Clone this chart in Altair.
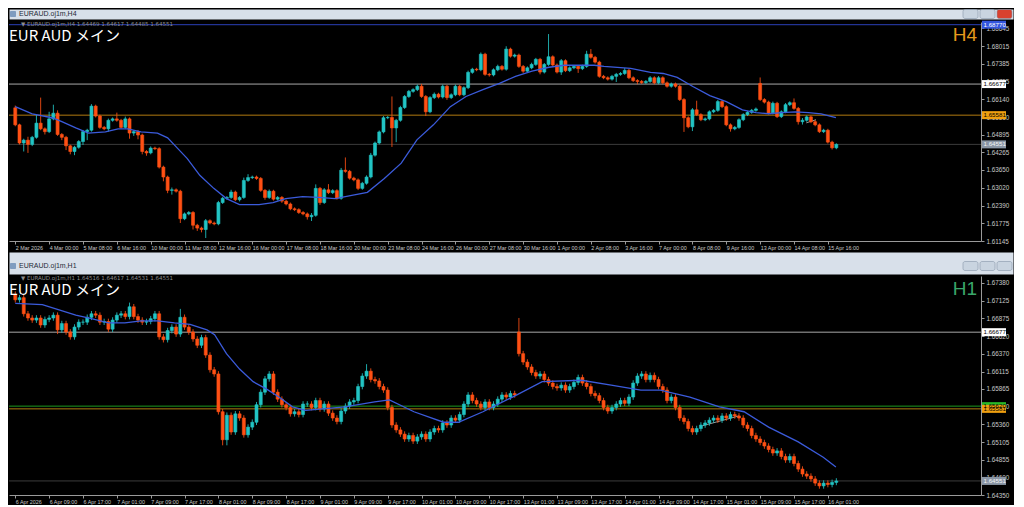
import altair as alt
import pandas as pd

# ---------------- layout constants ----------------
W = 972          # plot width of each panel
H = 219          # plot height of each panel
TW = 1004        # width of the window title bars
BULL = "#22c4c4"
BEAR = "#ff5014"
MA_COLOR = "#3b5bdb"
AXIS_GREY = "#c8c8c8"

# ---------------- H4 panel data ----------------
h4_open = [1.6584, 1.6524, 1.6460, 1.6470, 1.6455, 1.6480, 1.6530, 1.6510, 1.6500, 1.6545,
           1.6565, 1.6490, 1.6480, 1.6450, 1.6430, 1.6445, 1.6465, 1.6500, 1.6505, 1.6590,
           1.6555, 1.6515, 1.6510, 1.6540, 1.6545, 1.6540, 1.6515, 1.6545, 1.6495, 1.6500,
           1.6488, 1.6430, 1.6425, 1.6442, 1.6440, 1.6375, 1.6340, 1.6293, 1.6295, 1.6290,
           1.6193, 1.6210, 1.6215, 1.6170, 1.6160, 1.6155, 1.6186, 1.6178, 1.6175, 1.6250,
           1.6265, 1.6268, 1.6287, 1.6260, 1.6268, 1.6328, 1.6338, 1.6340, 1.6335, 1.6293,
           1.6268, 1.6290, 1.6262, 1.6268, 1.6255, 1.6245, 1.6228, 1.6225, 1.6215, 1.6210,
           1.6200, 1.6205, 1.6300, 1.6250, 1.6295, 1.6285, 1.6292, 1.6265, 1.6364, 1.6360,
           1.6336, 1.6330, 1.6300, 1.6318, 1.6340, 1.6417, 1.6460, 1.6499, 1.6549, 1.6550,
           1.6513, 1.6540, 1.6585, 1.6624, 1.6642, 1.6648, 1.6660, 1.6624, 1.6570, 1.6620,
           1.6632, 1.6622, 1.6660, 1.6620, 1.6630, 1.6660, 1.6630, 1.6655, 1.6709, 1.6720,
           1.6718, 1.6773, 1.6702, 1.6700, 1.6718, 1.6730, 1.6720, 1.6791, 1.6766, 1.6770,
           1.6730, 1.6713, 1.6725, 1.6737, 1.6755, 1.6710, 1.6737, 1.6764, 1.6735, 1.6710,
           1.6750, 1.6715, 1.6725, 1.6730, 1.6722, 1.6730, 1.6773, 1.6762, 1.6745, 1.6695,
           1.6690, 1.6685, 1.6695, 1.6702, 1.6705, 1.6716, 1.6690, 1.6680, 1.6677, 1.6673,
           1.6677, 1.6690, 1.6672, 1.6690, 1.6672, 1.6660, 1.6668, 1.6660, 1.6613, 1.6549,
           1.6517, 1.6577, 1.6560, 1.6542, 1.6545, 1.6570, 1.6575, 1.6606, 1.6588, 1.6524,
           1.6510, 1.6515, 1.6542, 1.6560, 1.6568, 1.6575, 1.6670, 1.6613, 1.6604, 1.6566,
           1.6600, 1.6553, 1.6570, 1.6595, 1.6602, 1.6582, 1.6535, 1.6540, 1.6552, 1.6535,
           1.6524, 1.6500, 1.6505, 1.6463, 1.6443]
h4_close = [1.6524, 1.6460, 1.6470, 1.6455, 1.6480, 1.6530, 1.6510, 1.6500, 1.6545, 1.6565,
            1.6490, 1.6480, 1.6450, 1.6430, 1.6445, 1.6465, 1.6500, 1.6505, 1.6590, 1.6555,
            1.6515, 1.6510, 1.6540, 1.6545, 1.6540, 1.6515, 1.6545, 1.6495, 1.6500, 1.6488,
            1.6430, 1.6425, 1.6442, 1.6440, 1.6375, 1.6340, 1.6293, 1.6295, 1.6290, 1.6193,
            1.6210, 1.6215, 1.6170, 1.6160, 1.6155, 1.6186, 1.6178, 1.6175, 1.6250, 1.6265,
            1.6268, 1.6287, 1.6260, 1.6268, 1.6328, 1.6338, 1.6340, 1.6335, 1.6293, 1.6268,
            1.6290, 1.6262, 1.6268, 1.6255, 1.6245, 1.6228, 1.6225, 1.6215, 1.6210, 1.6200,
            1.6205, 1.6300, 1.6250, 1.6295, 1.6285, 1.6292, 1.6265, 1.6364, 1.6360, 1.6336,
            1.6330, 1.6300, 1.6318, 1.6340, 1.6417, 1.6460, 1.6499, 1.6549, 1.6550, 1.6513,
            1.6540, 1.6585, 1.6624, 1.6642, 1.6648, 1.6660, 1.6624, 1.6570, 1.6620, 1.6632,
            1.6622, 1.6660, 1.6620, 1.6630, 1.6660, 1.6630, 1.6655, 1.6709, 1.6720, 1.6718,
            1.6773, 1.6702, 1.6700, 1.6718, 1.6730, 1.6720, 1.6791, 1.6766, 1.6770, 1.6730,
            1.6713, 1.6725, 1.6737, 1.6755, 1.6710, 1.6737, 1.6764, 1.6735, 1.6710, 1.6750,
            1.6715, 1.6725, 1.6730, 1.6722, 1.6730, 1.6773, 1.6762, 1.6745, 1.6695, 1.6690,
            1.6685, 1.6695, 1.6702, 1.6705, 1.6716, 1.6690, 1.6680, 1.6677, 1.6673, 1.6677,
            1.6690, 1.6672, 1.6690, 1.6672, 1.6660, 1.6668, 1.6660, 1.6613, 1.6549, 1.6517,
            1.6577, 1.6560, 1.6542, 1.6545, 1.6570, 1.6575, 1.6606, 1.6588, 1.6524, 1.6510,
            1.6515, 1.6542, 1.6560, 1.6568, 1.6575, 1.6580, 1.6613, 1.6604, 1.6566, 1.6600,
            1.6553, 1.6570, 1.6595, 1.6602, 1.6582, 1.6535, 1.6540, 1.6552, 1.6535, 1.6524,
            1.6500, 1.6505, 1.6463, 1.6443, 1.6455]
# wick lengths above / below the body, in pips (0.0001)
h4_up = [8, 4, 5, 12, 5, 30, 90, 5, 25, 30,
         10, 5, 5, 4, 5, 5, 6, 5, 7, 5,
         5, 5, 6, 5, 22, 5, 8, 5, 5, 6,
         5, 5, 6, 5, 5, 5, 5, 8, 5, 5,
         5, 5, 5, 5, 5, 6, 5, 5, 6, 5,
         5, 8, 5, 5, 10, 12, 5, 5, 5, 5,
         6, 5, 5, 5, 5, 5, 5, 5, 5, 5,
         8, 14, 5, 6, 20, 5, 5, 8, 45, 5,
         5, 5, 5, 6, 8, 5, 5, 6, 5, 74,
         5, 6, 5, 5, 5, 6, 8, 5, 5, 6,
         5, 6, 5, 5, 6, 5, 5, 6, 5, 5,
         6, 5, 5, 5, 6, 5, 10, 5, 5, 5,
         5, 5, 6, 5, 5, 5, 80, 5, 5, 6,
         5, 5, 5, 5, 6, 12, 18, 5, 5, 5,
         5, 5, 5, 5, 8, 5, 5, 5, 5, 5,
         6, 5, 6, 5, 5, 5, 5, 5, 5, 5,
         6, 32, 5, 5, 5, 5, 6, 5, 5, 5,
         5, 5, 5, 5, 5, 5, 21, 5, 5, 6,
         5, 5, 6, 5, 15, 5, 8, 5, 5, 5,
         5, 5, 5, 5, 4]
h4_dn = [5, 5, 30, 30, 6, 5, 5, 10, 5, 5,
         5, 10, 15, 10, 13, 5, 12, 30, 5, 5,
         5, 5, 10, 5, 5, 5, 5, 20, 10, 15,
         10, 10, 5, 5, 5, 15, 10, 15, 5, 15,
         5, 5, 15, 10, 10, 30, 5, 5, 5, 5,
         5, 5, 5, 6, 5, 5, 5, 5, 5, 8,
         5, 5, 5, 6, 5, 5, 5, 5, 5, 10,
         15, 5, 8, 5, 5, 5, 5, 5, 5, 5,
         5, 6, 5, 5, 5, 5, 5, 5, 5, 67,
         50, 5, 5, 5, 5, 5, 5, 15, 5, 5,
         5, 5, 8, 5, 5, 5, 5, 5, 5, 5,
         5, 5, 6, 5, 5, 5, 5, 5, 5, 5,
         6, 5, 5, 5, 8, 5, 5, 5, 5, 10,
         5, 5, 5, 15, 5, 5, 5, 5, 5, 5,
         5, 5, 20, 5, 5, 5, 5, 10, 5, 5,
         5, 5, 5, 5, 5, 5, 5, 5, 50, 5,
         15, 5, 5, 5, 5, 5, 5, 5, 5, 10,
         5, 5, 5, 5, 5, 5, 5, 5, 5, 5,
         5, 5, 5, 5, 5, 10, 10, 5, 5, 5,
         5, 5, 5, 6, 5]
h4_ma_i = [0, 4, 8.7, 11, 14.3, 17.3, 21.3, 24.3, 26.6, 29.7,
           33.6, 36, 38.3, 40.6, 43.6, 46.9, 49.9, 53, 57.6, 60.9,
           63.9, 67.9, 71.6, 75.6, 79.5, 83.2, 87.2, 91.2, 94.9, 98.8,
           102.8, 106.5, 110.5, 114.4, 118.2, 122.1, 126.1, 129.8, 133.8, 136.8,
           139.1, 145.4, 150.1, 153.1, 156.4, 160.1, 164.1, 168, 171.8, 175,
           178, 181.1, 184.3, 187.4, 190.4, 193.9]
h4_ma_p = [1.6588, 1.6563, 1.6549, 1.6535, 1.6513, 1.6495, 1.6499, 1.6510, 1.6510, 1.6499,
           1.6495, 1.6478, 1.6442, 1.6406, 1.6346, 1.6300, 1.6264, 1.6243, 1.6243, 1.6250,
           1.6264, 1.6271, 1.6268, 1.6264, 1.6275, 1.6286, 1.6335, 1.6389, 1.6471, 1.6524,
           1.6588, 1.6624, 1.6648, 1.6670, 1.6695, 1.6713, 1.6727, 1.6734, 1.6734, 1.6734,
           1.6730, 1.6723, 1.6709, 1.6705, 1.6691, 1.6659, 1.6627, 1.6606, 1.6577, 1.6567,
           1.6563, 1.6567, 1.6570, 1.6567, 1.6563, 1.6549]
h4_trend_i = [186.9, 189.2]
h4_trend_p = [1.6531, 1.6542]
h4_labels = ["2 Mar 2026", "4 Mar 00:00", "5 Mar 08:00", "6 Mar 16:00", "10 Mar 00:00",
             "11 Mar 08:00", "12 Mar 16:00", "16 Mar 00:00", "17 Mar 08:00", "18 Mar 16:00",
             "20 Mar 00:00", "23 Mar 08:00", "24 Mar 16:00", "26 Mar 00:00", "27 Mar 08:00",
             "30 Mar 16:00", "1 Apr 00:00", "2 Apr 08:00", "3 Apr 16:00", "7 Apr 00:00",
             "8 Apr 08:00", "9 Apr 16:00", "13 Apr 00:00", "14 Apr 08:00", "15 Apr 16:00"]
h4_ticks = [1.68645, 1.68015, 1.67385, 1.66755, 1.66140, 1.65510, 1.64895, 1.64265,
            1.63650, 1.63020, 1.62390, 1.61775, 1.61145]
h4_levels = [1.68770, 1.66677, 1.65581, 1.64551]
h4_level_kind = ["blue", "white", "orange", "current"]

# ---------------- H1 panel data ----------------
h1_open = [1.6721, 1.6714, 1.6717, 1.6694, 1.6688, 1.6685, 1.6688, 1.6678, 1.6686, 1.6688,
           1.6692, 1.6671, 1.6680, 1.6668, 1.6661, 1.6675, 1.6682, 1.6682, 1.6689, 1.6694,
           1.6692, 1.6682, 1.6683, 1.6672, 1.6685, 1.6692, 1.6694, 1.6690, 1.6704, 1.6690,
           1.6685, 1.6682, 1.6683, 1.6687, 1.6694, 1.6661, 1.6657, 1.6670, 1.6675, 1.6665,
           1.6689, 1.6675, 1.6668, 1.6658, 1.6649, 1.6660, 1.6635, 1.6614, 1.6608, 1.6554,
           1.6514, 1.6549, 1.6525, 1.6551, 1.6545, 1.6521, 1.6532, 1.6539, 1.6564, 1.6582,
           1.6601, 1.6608, 1.6582, 1.6572, 1.6564, 1.6560, 1.6551, 1.6554, 1.6550, 1.6565,
           1.6565, 1.6560, 1.6570, 1.6558, 1.6565, 1.6552, 1.6545, 1.6540, 1.6555, 1.6562,
           1.6568, 1.6570, 1.6590, 1.6605, 1.6612, 1.6600, 1.6598, 1.6590, 1.6585, 1.6560,
           1.6535, 1.6528, 1.6522, 1.6515, 1.6520, 1.6512, 1.6518, 1.6522, 1.6515, 1.6525,
           1.6530, 1.6528, 1.6538, 1.6535, 1.6545, 1.6542, 1.6550, 1.6565, 1.6578, 1.6570,
           1.6565, 1.6560, 1.6568, 1.6560, 1.6565, 1.6572, 1.6578, 1.6575, 1.6580, 1.6668,
           1.6637, 1.6625, 1.6618, 1.6610, 1.6605, 1.6608, 1.6600, 1.6595, 1.6590, 1.6588,
           1.6592, 1.6585, 1.6590, 1.6596, 1.6603, 1.6595, 1.6590, 1.6580, 1.6577, 1.6570,
           1.6560, 1.6555, 1.6560, 1.6565, 1.6570, 1.6566, 1.6575, 1.6595, 1.6605, 1.6608,
           1.6600, 1.6606, 1.6600, 1.6590, 1.6585, 1.6570, 1.6575, 1.6560, 1.6545, 1.6540,
           1.6530, 1.6525, 1.6530, 1.6535, 1.6538, 1.6542, 1.6545, 1.6542, 1.6548, 1.6545,
           1.6550, 1.6548, 1.6545, 1.6535, 1.6530, 1.6520, 1.6515, 1.6510, 1.6505, 1.6500,
           1.6495, 1.6498, 1.6490, 1.6485, 1.6490, 1.6480, 1.6472, 1.6465, 1.6462, 1.6458,
           1.6452, 1.6448, 1.6452, 1.6450, 1.6453]
h1_close = [1.6714, 1.6717, 1.6694, 1.6688, 1.6685, 1.6688, 1.6678, 1.6686, 1.6688, 1.6692,
            1.6671, 1.6680, 1.6668, 1.6661, 1.6675, 1.6682, 1.6682, 1.6689, 1.6694, 1.6692,
            1.6682, 1.6683, 1.6672, 1.6685, 1.6692, 1.6694, 1.6690, 1.6704, 1.6690, 1.6685,
            1.6682, 1.6683, 1.6687, 1.6694, 1.6661, 1.6657, 1.6670, 1.6675, 1.6665, 1.6689,
            1.6675, 1.6668, 1.6658, 1.6649, 1.6660, 1.6635, 1.6614, 1.6608, 1.6554, 1.6514,
            1.6549, 1.6525, 1.6551, 1.6545, 1.6521, 1.6532, 1.6539, 1.6564, 1.6582, 1.6601,
            1.6608, 1.6582, 1.6572, 1.6564, 1.6560, 1.6551, 1.6554, 1.6550, 1.6565, 1.6565,
            1.6560, 1.6570, 1.6558, 1.6565, 1.6552, 1.6545, 1.6540, 1.6555, 1.6562, 1.6568,
            1.6570, 1.6590, 1.6605, 1.6612, 1.6600, 1.6598, 1.6590, 1.6585, 1.6560, 1.6535,
            1.6528, 1.6522, 1.6515, 1.6520, 1.6512, 1.6518, 1.6522, 1.6515, 1.6525, 1.6530,
            1.6528, 1.6538, 1.6535, 1.6545, 1.6542, 1.6550, 1.6565, 1.6578, 1.6570, 1.6565,
            1.6560, 1.6568, 1.6560, 1.6565, 1.6572, 1.6578, 1.6575, 1.6580, 1.6578, 1.6637,
            1.6625, 1.6618, 1.6610, 1.6605, 1.6608, 1.6600, 1.6595, 1.6590, 1.6588, 1.6592,
            1.6585, 1.6590, 1.6596, 1.6603, 1.6595, 1.6590, 1.6580, 1.6577, 1.6570, 1.6560,
            1.6555, 1.6560, 1.6565, 1.6570, 1.6566, 1.6575, 1.6595, 1.6605, 1.6608, 1.6600,
            1.6606, 1.6600, 1.6590, 1.6585, 1.6570, 1.6575, 1.6560, 1.6545, 1.6540, 1.6530,
            1.6525, 1.6530, 1.6535, 1.6538, 1.6542, 1.6545, 1.6542, 1.6548, 1.6545, 1.6550,
            1.6548, 1.6545, 1.6535, 1.6530, 1.6520, 1.6515, 1.6510, 1.6505, 1.6500, 1.6495,
            1.6498, 1.6490, 1.6485, 1.6490, 1.6480, 1.6472, 1.6465, 1.6462, 1.6458, 1.6452,
            1.6448, 1.6452, 1.6450, 1.6453, 1.6455]
h1_up = [5, 4, 4, 4, 4, 4, 4, 4, 4, 4,
         4, 4, 4, 4, 4, 4, 4, 4, 4, 4,
         4, 4, 4, 4, 4, 4, 4, 6, 4, 4,
         4, 4, 4, 4, 4, 4, 4, 4, 4, 12,
         4, 4, 4, 4, 4, 4, 4, 4, 4, 4,
         4, 4, 4, 4, 4, 4, 4, 4, 4, 4,
         4, 4, 4, 4, 4, 4, 4, 4, 4, 4,
         4, 4, 4, 4, 4, 4, 4, 4, 4, 4,
         4, 4, 4, 10, 4, 4, 4, 4, 4, 4,
         4, 4, 4, 4, 4, 4, 4, 4, 4, 4,
         4, 4, 4, 4, 4, 4, 4, 4, 4, 4,
         4, 4, 4, 4, 4, 4, 4, 4, 4, 20,
         4, 4, 4, 4, 4, 4, 4, 4, 4, 4,
         4, 4, 4, 4, 4, 4, 4, 4, 4, 4,
         4, 4, 4, 4, 4, 4, 4, 4, 4, 4,
         4, 4, 4, 4, 4, 4, 4, 4, 4, 4,
         4, 4, 4, 4, 4, 4, 4, 4, 4, 4,
         4, 4, 4, 4, 4, 4, 4, 4, 4, 4,
         4, 4, 4, 4, 4, 4, 4, 4, 4, 4,
         4, 4, 4, 4, 4]
h1_dn = [4, 4, 4, 4, 4, 4, 4, 4, 4, 4,
         6, 4, 4, 4, 4, 4, 4, 4, 4, 4,
         4, 4, 4, 4, 4, 4, 4, 4, 4, 4,
         4, 4, 4, 4, 4, 4, 4, 4, 4, 4,
         4, 4, 4, 4, 4, 4, 4, 4, 4, 8,
         8, 4, 4, 4, 4, 4, 4, 4, 4, 4,
         4, 4, 4, 4, 4, 4, 4, 4, 4, 4,
         4, 4, 4, 4, 4, 4, 4, 4, 4, 4,
         4, 4, 4, 4, 4, 4, 4, 4, 4, 4,
         4, 4, 4, 4, 4, 4, 4, 4, 4, 4,
         4, 4, 4, 4, 4, 4, 4, 4, 4, 4,
         4, 4, 4, 4, 4, 4, 4, 4, 4, 4,
         4, 4, 4, 4, 4, 4, 4, 4, 4, 4,
         4, 4, 4, 4, 4, 4, 4, 4, 4, 4,
         4, 4, 4, 4, 4, 4, 4, 4, 4, 4,
         4, 4, 4, 4, 4, 4, 4, 4, 4, 4,
         4, 4, 4, 4, 4, 4, 4, 4, 4, 4,
         4, 4, 4, 4, 4, 4, 4, 4, 4, 4,
         4, 4, 4, 4, 4, 4, 4, 4, 4, 4,
         4, 4, 4, 4, 4]
h1_ma_i = [0, 6.4, 14.3, 18, 22, 25.9, 29.7, 33.6, 37.6, 41.3,
           45.3, 47.1, 49.9, 53, 56.2, 59.2, 62.3, 65.5, 68.6, 77.9,
           84.9, 88.4, 94.2, 101.2, 104.7, 110.5, 117.5, 124.5, 133.8, 140.8,
           147.8, 152.4, 159.4, 166.4, 172.2, 178, 185, 190.9, 193.9]
h1_ma_p = [1.6709, 1.6707, 1.6692, 1.6687, 1.6681, 1.6681, 1.6684, 1.6684, 1.6681, 1.6679,
           1.6671, 1.6664, 1.6637, 1.6615, 1.6597, 1.6587, 1.6575, 1.6561, 1.6556, 1.6561,
           1.6568, 1.6571, 1.6554, 1.6539, 1.6539, 1.6554, 1.6575, 1.6597, 1.6599, 1.6592,
           1.6585, 1.6585, 1.6575, 1.6561, 1.6554, 1.6532, 1.6511, 1.6489, 1.6475]
h1_trend_i = [162.4, 171.0]
h1_trend_p = [1.6534, 1.6548]
h1_labels = ["6 Apr 2026", "6 Apr 09:00", "6 Apr 17:00", "7 Apr 01:00", "7 Apr 09:00",
             "7 Apr 17:00", "8 Apr 01:00", "8 Apr 09:00", "8 Apr 17:00", "9 Apr 01:00",
             "9 Apr 09:00", "9 Apr 17:00", "10 Apr 01:00", "10 Apr 09:00", "10 Apr 17:00",
             "13 Apr 01:00", "13 Apr 09:00", "13 Apr 17:00", "14 Apr 01:00", "14 Apr 09:00",
             "14 Apr 17:00", "15 Apr 01:00", "15 Apr 09:00", "15 Apr 17:00", "16 Apr 01:00"]
h1_ticks = [1.67380, 1.67125, 1.66875, 1.66620, 1.66370, 1.66115, 1.65865, 1.65610,
            1.65360, 1.65105, 1.64855, 1.64600, 1.64350]
h1_levels = [1.66677, 1.65620, 1.65581, 1.64551]
h1_level_kind = ["white", "green", "orange", "current"]

# ---------------- styling maps ----------------
KINDS = ["blue", "white", "orange", "green", "current"]
LINE_COL = ["#2a3fb8", "#a8a8a8", "#b07a10", "#1e9a1e", "#3c3c3c"]
BOX_FILL = ["#3355dd", "#ffffff", "#f0a010", "#28b828", "#8a96a6"]
BOX_TEXT = ["#ffffff", "#000000", "#000000", "#000000", "#f4f4f4"]

# one shared colour scale for every layer of a panel
COLOR_DOMAIN = (["bull", "bear"] + ["lv_" + k for k in KINDS] + ["tx_" + k for k in KINDS])
COLOR_RANGE = [BULL, BEAR] + LINE_COL + BOX_TEXT


def candles(o, c, up, dn):
    rows = []
    for i, (oo, cc, u, d) in enumerate(zip(o, c, up, dn)):
        rows.append({"i": i, "o": oo, "c": cc,
                     "h": max(oo, cc) + u / 10000.0,
                     "l": min(oo, cc) - d / 10000.0,
                     "dir": "bull" if cc >= oo else "bear"})
    return pd.DataFrame(rows)


def label_expr(labels):
    parts = []
    for k, lab in enumerate(labels):
        parts.append("datum.value == %d ? '%s' : " % (k * 8, lab))
    return "".join(parts) + "''"


def panel(df, ma_i, ma_p, tr_i, tr_p, levels, kinds, ticks, ydom, labels, header, tf, tf_color):
    xs = alt.Scale(domain=[-0.3, 227], nice=False, zero=False)
    ys = alt.Scale(domain=ydom, nice=False, zero=False)
    xaxis = alt.Axis(values=list(range(0, 193, 8)), labelExpr=label_expr(labels),
                     labelAlign="left", labelPadding=1, labelOverlap=False,
                     labelColor=AXIS_GREY, labelFontSize=5.4,
                     tickColor="#9a9a9a", tickSize=3, domainColor="#9a9a9a", grid=False,
                     title="", titlePadding=0, zindex=0)
    yaxis = alt.Axis(orient="right", values=ticks, format=".5f", labelPadding=2,
                     labelColor=AXIS_GREY, labelFontSize=6.3,
                     tickColor="#9a9a9a", tickSize=3, domainColor="#9a9a9a", grid=False,
                     labelOverlap=False, title="", titlePadding=0, zindex=0)
    cscale = alt.Scale(domain=COLOR_DOMAIN, range=COLOR_RANGE)

    def X(f):
        return alt.X(f, scale=xs, axis=xaxis)

    def Y(f):
        return alt.Y(f, scale=ys, axis=yaxis)

    base = alt.Chart(df)
    lv = pd.DataFrame({"p": levels,
                       "lk": ["lv_" + k for k in kinds],
                       "tk": ["tx_" + k for k in kinds],
                       "k": kinds})

    lines = alt.Chart(lv).mark_rule(strokeWidth=1).encode(
        y=Y("p:Q"), color=alt.Color("lk:N", scale=cscale, legend=None))

    trend = alt.Chart(pd.DataFrame({"i": tr_i, "p": tr_p})).mark_line(
        color="#9a9a9a", strokeWidth=1).encode(x=X("i:Q"), y=Y("p:Q"))

    wick = base.mark_rule(strokeWidth=1, opacity=0.85).encode(
        x=X("i:Q"), y=Y("l:Q"), y2="h:Q",
        color=alt.Color("dir:N", scale=cscale, legend=None))
    body = base.mark_bar(size=3, strokeWidth=0.6).encode(
        x=X("i:Q"), y=Y("o:Q"), y2="c:Q",
        color=alt.Color("dir:N", scale=cscale, legend=None),
        stroke=alt.Stroke("dir:N", scale=alt.Scale(domain=["bull", "bear"], range=[BULL, BEAR]),
                          legend=None))

    ma = alt.Chart(pd.DataFrame({"i": ma_i, "p": ma_p})).mark_line(
        color=MA_COLOR, strokeWidth=1.3).encode(x=X("i:Q"), y=Y("p:Q"))

    boxes = alt.Chart(lv).mark_rect(height=8).encode(
        x=alt.value(W + 1), x2=alt.value(W + 25), y=Y("p:Q"),
        fill=alt.Fill("k:N", scale=alt.Scale(domain=KINDS, range=BOX_FILL), legend=None))
    boxtext = alt.Chart(lv).mark_text(align="left", baseline="middle", fontSize=6.2,
                                      font="Liberation Sans").encode(
        x=alt.value(W + 2.5), y=Y("p:Q"),
        text=alt.Text("p:Q", format=".5f"),
        color=alt.Color("tk:N", scale=cscale, legend=None))

    head = alt.Chart(pd.DataFrame({"t": [header]})).mark_text(
        align="left", baseline="top", fontSize=5.5, font="DejaVu Sans",
        color="#8c8c8c").encode(text="t:N", x=alt.value(12), y=alt.value(0))
    name = alt.Chart(pd.DataFrame({"t": ["EUR AUD メイン"]})).mark_text(
        align="left", baseline="top", fontSize=15, font="Noto Sans CJK JP",
        color="#ffffff").encode(text="t:N", x=alt.value(0), y=alt.value(7))
    tfm = alt.Chart(pd.DataFrame({"t": [tf]})).mark_text(
        align="right", baseline="top", fontSize=19, font="Liberation Sans",
        color=tf_color).encode(text="t:N", x=alt.value(W - 4), y=alt.value(4))

    return alt.layer(lines, trend, wick, body, ma, boxes, boxtext, head, name, tfm).properties(
        width=W, height=H)


def titlebar(text, h, ty, close_red):
    one = pd.DataFrame({"t": [text]})
    bg = alt.Chart(one).mark_text(align="left", baseline="middle", fontSize=7,
                                  font="Liberation Sans", color="#1f2a36").encode(
        text="t:N", x=alt.value(10), y=alt.value(ty))
    icon = alt.Chart(one).mark_rect(color="#7f9cc0", cornerRadius=1).encode(
        x=alt.value(1), x2=alt.value(7), y=alt.value(ty - 3), y2=alt.value(ty + 3))
    layers = [bg, icon]
    specs = [(954, 969, "#c9d4e0"), (971, 986, "#c9d4e0"),
             (988, 1003, "#d9412f" if close_red else "#c9d4e0")]
    for x1, x2, col in specs:
        layers.append(alt.Chart(one).mark_rect(color=col, cornerRadius=2, stroke="#8796a8",
                                               strokeWidth=0.6).encode(
            x=alt.value(x1), x2=alt.value(x2), y=alt.value(ty - 4.5), y2=alt.value(ty + 4.5)))
    return alt.layer(*layers).properties(
        width=TW, height=h, view=alt.ViewBackground(fill="#d8e0ea", stroke="transparent"))


top = panel(candles(h4_open, h4_close, h4_up, h4_dn), h4_ma_i, h4_ma_p, h4_trend_i, h4_trend_p,
            h4_levels, h4_level_kind, h4_ticks, [1.61145, 1.68865], h4_labels,
            "\u25bc EURAUD.oj1m,H4  1.64469 1.64617 1.64485 1.64551", "H4", "#e69a1c")
bottom = panel(candles(h1_open, h1_close, h1_up, h1_dn), h1_ma_i, h1_ma_p, h1_trend_i, h1_trend_p,
               h1_levels, h1_level_kind, h1_ticks, [1.64350, 1.67480], h1_labels,
               "\u25bc EURAUD.oj1m,H1  1.64516 1.64617 1.64531 1.64551", "H1", "#3aa66a")

chart = alt.vconcat(
    titlebar("EURAUD.oj1m,H4", 10, 5, True),
    top,
    titlebar("EURAUD.oj1m,H1", 22, 14, False),
    bottom,
    spacing=0,
).properties(padding=0).configure(background="#000000").configure_view(
    stroke="transparent").configure_concat(spacing=0).configure_axis(
    labelFont="Liberation Sans")

chart.save("out.html", embed_options={"renderer": "svg", "actions": False})
